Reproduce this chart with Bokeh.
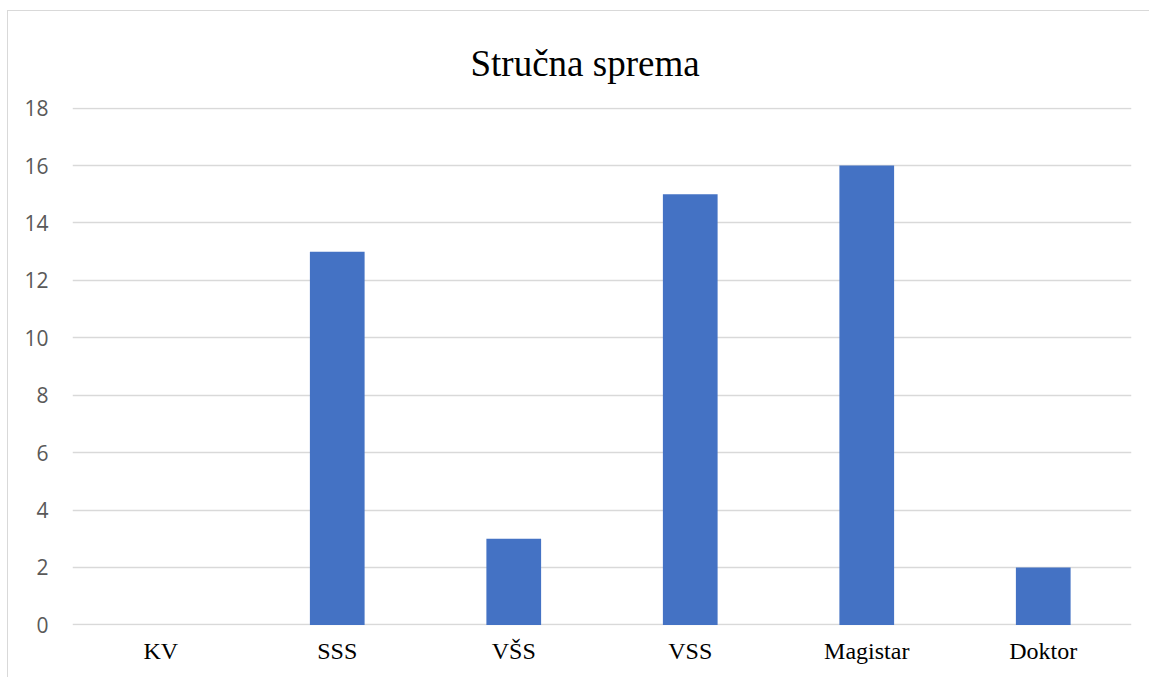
from bokeh.plotting import figure
from bokeh.models import ColumnDataSource, Range1d, FixedTicker
from bokeh.embed import file_html
from bokeh.resources import INLINE

categories = ["KV", "SSS", "VŠS", "VSS", "Magistar", "Doktor"]
values = [0, 13, 3, 15, 16, 2]
y_ticks = [0, 2, 4, 6, 8, 10, 12, 14, 16, 18]
title_text = "Stručna sprema"

source = ColumnDataSource(data=dict(cat=categories, val=values))

p = figure(x_range=categories, y_range=Range1d(-0.02, 18.02), width=1142, height=667,
           output_backend="svg", toolbar_location=None,
           min_border_left=64, min_border_right=19, min_border_top=96, min_border_bottom=53)
p.margin = (10, 0, 0, 7)

p.title.text = title_text
p.title.align = "left"
p.title.offset = 398
p.title.vertical_align = "top"
p.title.text_font = "Liberation Serif"
p.title.text_font_size = "37px"
p.title.text_font_style = "normal"
p.title.text_color = "#000000"
p.title.standoff = 44

p.vbar(x="cat", top="val", width=0.31, source=source, color="#4472C4", line_color=None)

p.outline_line_color = None
p.xgrid.grid_line_color = None
p.ygrid.grid_line_color = "#d9d9d9"
p.ygrid.grid_line_width = 1.5
p.yaxis.ticker = FixedTicker(ticks=y_ticks)

for ax in (p.xaxis, p.yaxis):
    ax.axis_line_color = None
    ax.major_tick_line_color = None
    ax.minor_tick_line_color = None

p.yaxis.major_label_text_font = "Open Sans"
p.yaxis.major_label_text_font_size = "21px"
p.yaxis.major_label_text_color = "#595959"
p.yaxis.major_label_standoff = 18

p.xaxis.major_label_text_font = "Liberation Serif"
p.xaxis.major_label_text_font_size = "24px"
p.xaxis.major_label_text_color = "#000000"
p.xaxis.major_label_standoff = 6

p.x_range.range_padding = 0
p.styles = {"border-left": "1px solid #d9d9d9", "border-top": "1px solid #d9d9d9"}

open("out.html", "w").write(file_html(p, INLINE))
